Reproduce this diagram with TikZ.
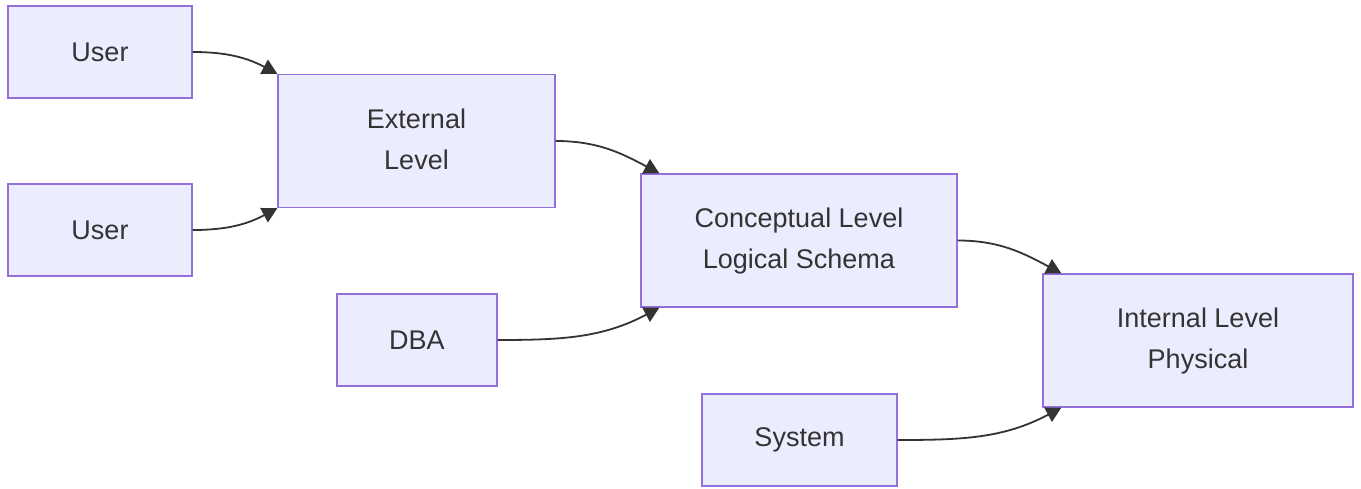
\documentclass[tikz,border=0pt]{standalone}
\usepackage{fontspec}
\setmainfont{Liberation Sans}
\usetikzlibrary{arrows.meta,calc,positioning}
\definecolor{boxfill}{HTML}{ECECFF}
\definecolor{boxline}{HTML}{9370DB}
\definecolor{ink}{HTML}{333333}
\tikzset{
  box/.style={rectangle,draw=boxline,fill=boxfill,line width=0.7pt,align=center,text=ink,inner sep=0pt},
  smallbox/.style={box,minimum height=46pt},
  bigbox/.style={box,minimum height=66.5pt,text depth=2pt},
  flow/.style={-{Triangle[length=7.5pt,width=8pt]},draw=ink,line width=0.9pt},
  every node/.style={font=\fontsize{13.5pt}{20.5pt}\selectfont}
}

\begin{document}
\begin{tikzpicture}[x=0.5pt,y=-0.5pt]
\useasboundingbox (0,0) rectangle (1361,488);
% actors
\node[smallbox,minimum width=92pt] (u1) at (100,52) {User};
\node[smallbox,minimum width=92pt] (u2) at (100,230) {User};
\node[smallbox,minimum width=80pt] (dba) at (417,340) {DBA};
\node[smallbox,minimum width=97.5pt] (sys) at (799.5,440) {System};
% levels
\node[bigbox,minimum width=138.5pt] (ext) at (416.5,141) {External\\Level};
\node[bigbox,minimum width=158pt] (con) at (799,240.5) {Conceptual Level\\Logical Schema};
\node[bigbox,minimum width=155pt] (int) at (1198,340.5) {Internal Level\\Physical};

\coordinate (conin) at ($(con.north west)+(19,0)$);
\coordinate (conlow) at ($(con.south west)+(19,0)$);
\coordinate (intin) at ($(int.north west)+(19,0)$);
\coordinate (intlow) at ($(int.south west)+(19,0)$);

\draw[flow] (u1.east) to[out=0,in=152] (ext.north west);
\draw[flow] (u2.east) to[out=0,in=208] (ext.south west);
\draw[flow] (ext.east) to[out=0,in=152] (conin);
\draw[flow] (dba.east) to[out=0,in=208] (conlow);
\draw[flow] (con.east) to[out=0,in=152] (intin);
\draw[flow] (sys.east) to[out=0,in=208] (intlow);
\end{tikzpicture}
\end{document}
